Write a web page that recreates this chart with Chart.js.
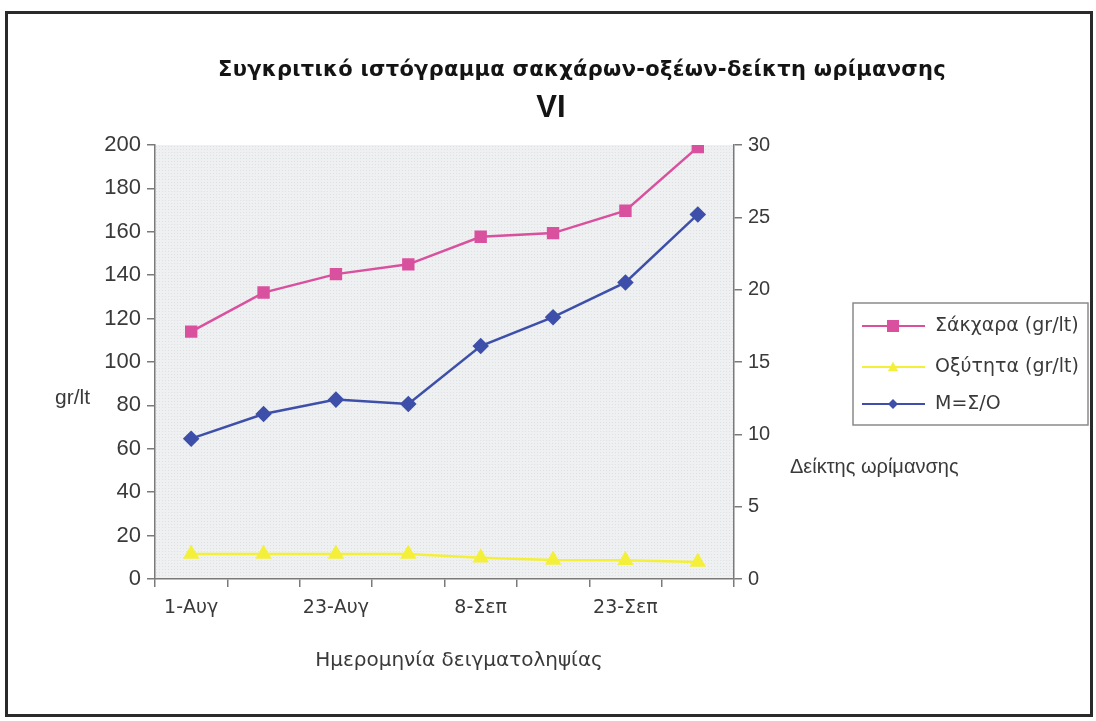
<!DOCTYPE html>
<html>
<head>
<meta charset="utf-8">
<script src="https://cdn.jsdelivr.net/npm/chart.js@4/dist/chart.umd.min.js"></script>
<style>
  html, body { margin: 0; padding: 0; background: #ffffff; }
  #wrap { position: relative; width: 1096px; height: 721px; overflow: hidden; }
  #frame { position: absolute; left: 5px; top: 11px; width: 1082px; height: 700px;
           border: 3px solid #2a2a2a; box-sizing: content-box; pointer-events: none; }
  canvas { position: absolute; left: 0; top: 0; }
</style>
</head>
<body>
<div id="wrap">
  <canvas id="c" width="1096" height="721"></canvas>
  <div id="frame"></div>
</div>
<script>
// Sampling dates (only every second one is labelled on the axis)
const dates = ['1-Αυγ', '12-Αυγ', '23-Αυγ', '1-Σεπ', '8-Σεπ', '15-Σεπ', '23-Σεπ', '30-Σεπ'];
// Sugars, gr/lt (left axis)
const sugars = [114, 132, 140.5, 145, 157.7, 159.4, 169.7, 199];
// Acidity, gr/lt (left axis)
const acidity = [11.5, 11.5, 11.5, 11.5, 9.8, 8.8, 8.6, 7.8];
// Maturity index M = S/O (right axis)
const maturity = [9.7, 11.4, 12.4, 12.1, 16.1, 18.1, 20.5, 25.2];

const leftTicks = [0, 20, 40, 60, 80, 100, 120, 140, 160, 180, 200];
const rightTicks = [0, 5, 10, 15, 20, 25, 30];

const titleLine1 = 'Συγκριτικό ιστόγραμμα σακχάρων-οξέων-δείκτη ωρίμανσης';
const titleLine2 = 'VI';
const xTitle = 'Ημερομηνία δειγματοληψίας';
const yLeftTitle = 'gr/lt';
const yRightTitle = 'Δείκτης ωρίμανσης';

const PINK = '#d9519e';
const YELLOW = '#f4f03a';
const BLUE = '#3e4faa';
const AXIS = '#7a7a7a';
const TEXT = '#3a3a3a';

// Fixed plot rectangle inside the canvas
const AREA = { left: 155, top: 145, right: 734, bottom: 579 };
const W = 1096, H = 721;

const plotBackground = {
  id: 'plotBackground',
  beforeDraw(chart) {
    const { ctx, chartArea: a } = chart;
    ctx.save();
    ctx.fillStyle = '#eef0f1';
    ctx.fillRect(a.left, a.top, a.right - a.left, a.bottom - a.top);
    // fine dot texture of the plot fill
    ctx.fillStyle = 'rgba(170,180,185,0.25)';
    for (let y = a.top + 1; y < a.bottom; y += 3) {
      for (let x = a.left + ((y / 3) % 2 ? 1 : 2); x < a.right; x += 3) {
        ctx.fillRect(x, y, 1, 1);
      }
    }
    ctx.restore();
  }
};

function drawMarker(ctx, style, x, y, color, r) {
  ctx.fillStyle = color;
  ctx.beginPath();
  if (style === 'rect') {
    ctx.rect(x - r, y - r, 2 * r, 2 * r);
  } else if (style === 'triangle') {
    ctx.moveTo(x, y - r * 1.1);
    ctx.lineTo(x + r, y + r * 0.8);
    ctx.lineTo(x - r, y + r * 0.8);
    ctx.closePath();
  } else {
    ctx.moveTo(x, y - r);
    ctx.lineTo(x + r, y);
    ctx.lineTo(x, y + r);
    ctx.lineTo(x - r, y);
    ctx.closePath();
  }
  ctx.fill();
}

const textLayer = {
  id: 'textLayer',
  afterDraw(chart) {
    const { ctx } = chart;
    ctx.save();
    ctx.fillStyle = '#141414';
    ctx.textBaseline = 'middle';
    ctx.textAlign = 'center';
    ctx.font = 'bold 21px "DejaVu Sans"';
    ctx.letterSpacing = '0.3px';
    ctx.fillText(titleLine1, 582, 71);
    ctx.letterSpacing = '0px';
    ctx.font = 'bold 31px "Liberation Sans"';
    ctx.fillText(titleLine2, 551, 108);

    ctx.fillStyle = TEXT;
    ctx.font = '20px "DejaVu Sans"';
    ctx.fillText(xTitle, 459, 661);
    ctx.textAlign = 'left';
    ctx.font = '21px "Liberation Sans"';
    ctx.fillText(yLeftTitle, 55, 398);
    ctx.font = '20px "Liberation Sans"';
    ctx.fillText(yRightTitle, 790, 467);

    // legend box
    ctx.strokeStyle = '#8a8a8a';
    ctx.lineWidth = 1.5;
    ctx.strokeRect(853, 303, 235, 122);
    const items = chart.data.datasets.map(d => ({
      label: d.label, color: d.borderColor, style: d.pointStyle
    }));
    const ys = [326, 367, 404];
    items.forEach((it, i) => {
      const y = ys[i];
      ctx.strokeStyle = it.color;
      ctx.lineWidth = 2;
      ctx.beginPath();
      ctx.moveTo(862, y);
      ctx.lineTo(925, y);
      ctx.stroke();
      drawMarker(ctx, it.style, 893, y, it.color, it.style === 'rect' ? 6 : 5);
      ctx.fillStyle = TEXT;
      ctx.font = '19px "DejaVu Sans"';
      ctx.textAlign = 'left';
      ctx.fillText(it.label, 935, y);
    });
    ctx.restore();
  }
};

const fixedLayout = (side) => (scale) => {
  if (side === 'left') scale.width = AREA.left;
  else if (side === 'right') scale.width = W - AREA.right;
  else scale.height = H - AREA.bottom;
};

new Chart(document.getElementById('c'), {
  type: 'line',
  data: {
    labels: dates,
    datasets: [
      { label: 'Σάκχαρα (gr/lt)', data: sugars, yAxisID: 'y', borderColor: PINK, backgroundColor: PINK,
        borderWidth: 2.5, pointStyle: 'rect', pointRadius: 7, pointHoverRadius: 7, tension: 0 },
      { label: 'Οξύτητα (gr/lt)', data: acidity, yAxisID: 'y', borderColor: YELLOW, backgroundColor: YELLOW,
        borderWidth: 2.5, pointStyle: 'triangle', pointRadius: 7, pointHoverRadius: 7, tension: 0 },
      { label: 'M=Σ/O', data: maturity, yAxisID: 'y2', borderColor: BLUE, backgroundColor: BLUE,
        borderWidth: 2.5, pointStyle: 'rectRot', pointRadius: 6.5, pointHoverRadius: 6.5, tension: 0 }
    ]
  },
  options: {
    responsive: false,
    animation: false,
    layout: { padding: { top: AREA.top, left: 0, right: 0, bottom: 0 } },
    plugins: { legend: { display: false }, tooltip: { enabled: false }, title: { display: false } },
    scales: {
      x: {
        offset: true,
        afterFit: fixedLayout('bottom'),
        grid: { offset: true, drawOnChartArea: false, tickLength: 8, color: AXIS, lineWidth: 1.5 },
        border: { color: AXIS, width: 1.5 },
        ticks: {
          autoSkip: false, maxRotation: 0, padding: 10, color: TEXT,
          font: { family: 'DejaVu Sans', size: 19 },
          callback: (v, i) => (i % 2 === 0 ? dates[i] : '')
        }
      },
      y: {
        position: 'left', min: 0, max: 200,
        afterFit: fixedLayout('left'),
        afterBuildTicks: (s) => { s.ticks = leftTicks.map(v => ({ value: v })); },
        grid: { drawOnChartArea: false, tickLength: 8, color: AXIS, lineWidth: 1.5 },
        border: { color: AXIS, width: 1.5 },
        ticks: { padding: 6, color: TEXT, font: { family: 'Liberation Sans', size: 22 } }
      },
      y2: {
        position: 'right', min: 0, max: 30,
        afterFit: fixedLayout('right'),
        afterBuildTicks: (s) => { s.ticks = rightTicks.map(v => ({ value: v })); },
        grid: { drawOnChartArea: false, tickLength: 8, color: AXIS, lineWidth: 1.5 },
        border: { color: AXIS, width: 1.5 },
        ticks: { padding: 6, color: TEXT, font: { family: 'Liberation Sans', size: 20 } }
      }
    }
  },
  plugins: [plotBackground, textLayer]
});
</script>
</body>
</html>
